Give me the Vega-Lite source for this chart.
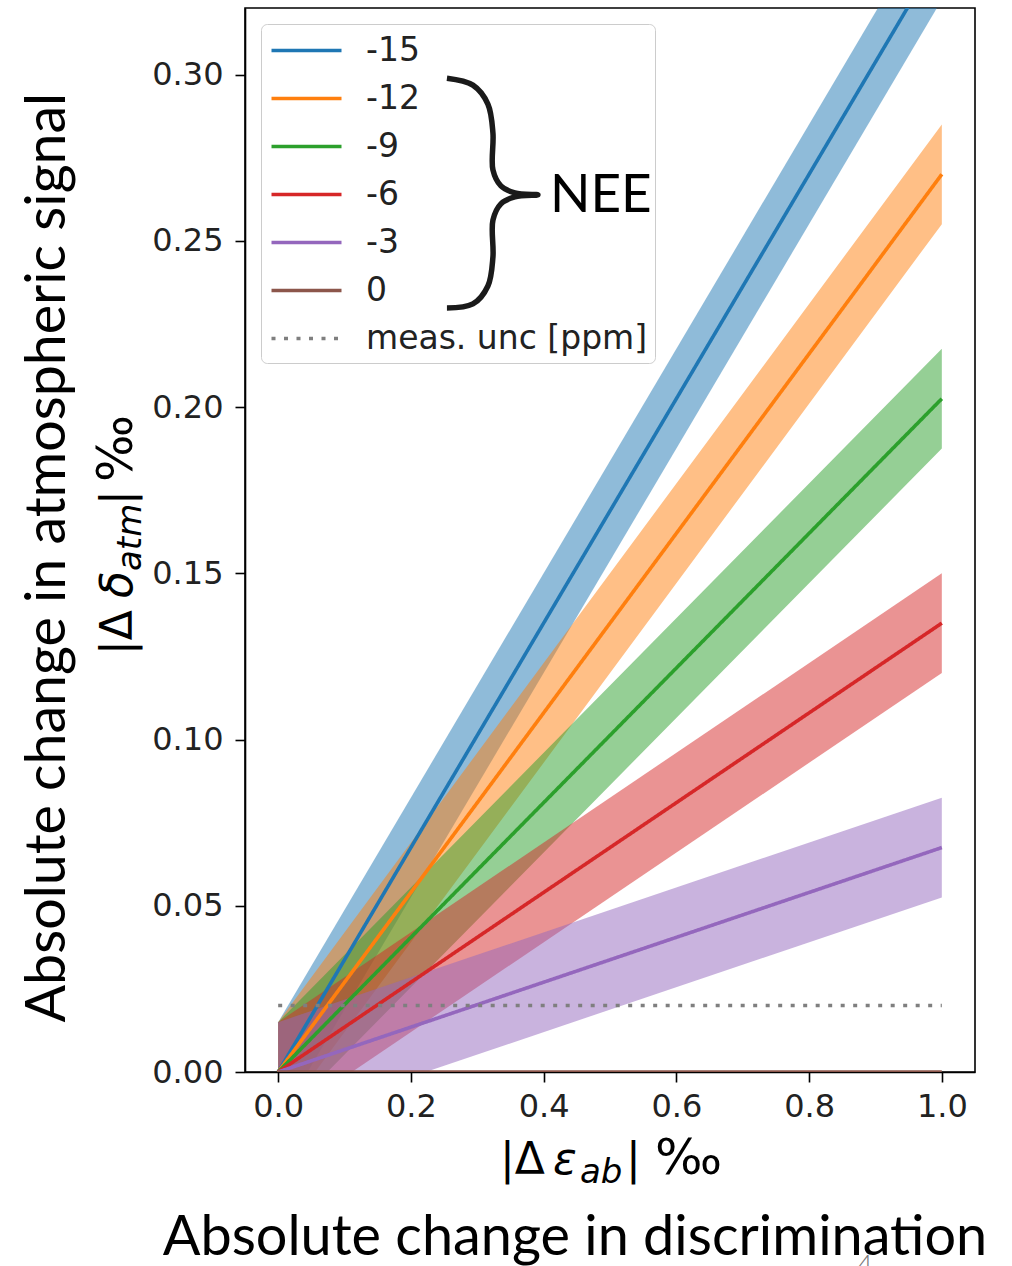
{
  "$schema": "https://vega.github.io/schema/vega-lite/v6.json",
  "width": 730,
  "height": 1064,
  "autosize": {"type": "none"},
  "padding": {"left": 245, "top": 8, "right": 37, "bottom": 194},
  "background": "white",
  "config": {
    "view": {"stroke": "#000", "strokeWidth": 1.6},
    "axis": {"domainColor": "#000", "domainWidth": 1.6, "tickColor": "#000", "tickWidth": 1.6, "tickSize": 10, "labelFont": "DejaVu Sans", "labelFontSize": 32, "labelColor": "#222", "grid": false},
    "text": {"font": "DejaVu Sans", "color": "#000"}
  },
  "datasets": {
    "bands": [
      {"series": "-15", "x": 0, "lo": 0, "hi": 0.015},
      {"series": "-15", "x": 0.0444, "lo": 0, "hi": 0.03},
      {"series": "-15", "x": 1, "lo": 0.3225, "hi": 0.3525},
      {"series": "-12", "x": 0, "lo": 0, "hi": 0.015},
      {"series": "-12", "x": 0.0556, "lo": 0, "hi": 0.03},
      {"series": "-12", "x": 1, "lo": 0.255, "hi": 0.285},
      {"series": "-9", "x": 0, "lo": 0, "hi": 0.015},
      {"series": "-9", "x": 0.0741, "lo": 0, "hi": 0.03},
      {"series": "-9", "x": 1, "lo": 0.1875, "hi": 0.2175},
      {"series": "-6", "x": 0, "lo": 0, "hi": 0.015},
      {"series": "-6", "x": 0.1111, "lo": 0, "hi": 0.03},
      {"series": "-6", "x": 1, "lo": 0.12, "hi": 0.15},
      {"series": "-3", "x": 0, "lo": 0, "hi": 0.015},
      {"series": "-3", "x": 0.2222, "lo": 0, "hi": 0.03},
      {"series": "-3", "x": 1, "lo": 0.0525, "hi": 0.0825}
    ],
    "lines": [
      {"series": "-15", "x": 0, "y": 0},
      {"series": "-15", "x": 1, "y": 0.3375},
      {"series": "-12", "x": 0, "y": 0},
      {"series": "-12", "x": 1, "y": 0.27},
      {"series": "-9", "x": 0, "y": 0},
      {"series": "-9", "x": 1, "y": 0.2025},
      {"series": "-6", "x": 0, "y": 0},
      {"series": "-6", "x": 1, "y": 0.135},
      {"series": "-3", "x": 0, "y": 0},
      {"series": "-3", "x": 1, "y": 0.0675},
      {"series": "0", "x": 0, "y": 0},
      {"series": "0", "x": 1, "y": 0},
      {"series": "meas. unc [ppm]", "x": 0, "y": 0.02},
      {"series": "meas. unc [ppm]", "x": 1, "y": 0.02}
    ],
    "brace": [
      {"i": 1, "x": 0.2543, "y": 0.2989},
      {"i": 2, "x": 0.2934, "y": 0.2968},
      {"i": 3, "x": 0.3160, "y": 0.2911},
      {"i": 4, "x": 0.3236, "y": 0.2824},
      {"i": 5, "x": 0.3236, "y": 0.2713},
      {"i": 6, "x": 0.3356, "y": 0.2665},
      {"i": 7, "x": 0.3567, "y": 0.2644},
      {"i": 8, "x": 0.3914, "y": 0.2638},
      {"i": 9, "x": 0.3567, "y": 0.2632},
      {"i": 10, "x": 0.3356, "y": 0.2611},
      {"i": 11, "x": 0.3236, "y": 0.2562},
      {"i": 12, "x": 0.3236, "y": 0.2451},
      {"i": 13, "x": 0.3160, "y": 0.2364},
      {"i": 14, "x": 0.2934, "y": 0.2310},
      {"i": 15, "x": 0.2543, "y": 0.2298}
    ],
    "one": [{}]
  },
  "layer": [
    {
      "data": {"name": "bands"},
      "mark": {"type": "area", "fillOpacity": 0.5, "clip": true},
      "encoding": {
        "x": {"field": "x", "type": "quantitative", "scale": {"domain": [-0.05, 1.05], "nice": false, "zero": false},
              "axis": {"title": null, "values": [0, 0.2, 0.4, 0.6, 0.8, 1.0], "format": ".1f", "labelPadding": 9}},
        "y": {"field": "lo", "type": "quantitative", "stack": null, "scale": {"domain": [0, 0.32], "nice": false, "zero": false},
              "axis": {"title": null, "values": [0, 0.05, 0.1, 0.15, 0.2, 0.25, 0.3], "format": ".2f", "labelPadding": 12}},
        "y2": {"field": "hi"},
        "fill": {"field": "series", "type": "nominal", "legend": null,
                  "scale": {"domain": ["-15", "-12", "-9", "-6", "-3"], "range": ["#1f77b4", "#ff7f0e", "#2ca02c", "#d62728", "#9467bd"]}}
      }
    },
    {
      "data": {"name": "lines"},
      "mark": {"type": "line", "strokeWidth": 3.6, "clip": true},
      "encoding": {
        "x": {"field": "x", "type": "quantitative", "title": null},
        "y": {"field": "y", "type": "quantitative", "title": null},
        "stroke": {"field": "series", "type": "nominal",
                  "scale": {"domain": ["-15", "-12", "-9", "-6", "-3", "0", "meas. unc [ppm]"], "range": ["#1f77b4", "#ff7f0e", "#2ca02c", "#d62728", "#9467bd", "#8c564b", "#7f7f7f"]},
                  "legend": {"orient": "top-left", "offset": 16, "title": null, "symbolType": "M-2,0L2,0", "symbolSize": 1225, "symbolStrokeWidth": 3.6, "symbolOpacity": 1,
                             "labelFont": "DejaVu Sans", "labelFontSize": 33, "labelColor": "#222", "labelLimit": 500, "padding": 7,
                             "strokeColor": "#cccccc", "fillColor": "transparent", "cornerRadius": 6, "rowPadding": 11, "symbolOffset": 19, "labelOffset": 40}},
        "strokeDash": {"field": "series", "type": "nominal",
                       "scale": {"domain": ["-15", "-12", "-9", "-6", "-3", "0", "meas. unc [ppm]"], "range": [[1, 0], [1, 0], [1, 0], [1, 0], [1, 0], [1, 0], [4, 8.5]]},
                       "legend": {"orient": "top-left", "offset": 16, "title": null, "symbolType": "M-2,0L2,0", "symbolSize": 1225, "symbolStrokeWidth": 3.6, "symbolOpacity": 1,
                             "labelFont": "DejaVu Sans", "labelFontSize": 33, "labelColor": "#222", "labelLimit": 500, "padding": 7,
                             "strokeColor": "#cccccc", "fillColor": "transparent", "cornerRadius": 6, "rowPadding": 11, "symbolOffset": 19, "labelOffset": 40}}
      }
    },
    {
      "data": {"name": "brace"},
      "mark": {"type": "line", "interpolate": "catmull-rom", "strokeWidth": 5.5, "color": "#1a1a1a", "clip": false},
      "encoding": {
        "x": {"field": "x", "type": "quantitative", "title": null},
        "y": {"field": "y", "type": "quantitative", "title": null},
        "order": {"field": "i", "type": "quantitative"}
      }
    },
    {
      "data": {"name": "one"},
      "mark": {"type": "text", "text": "NEE", "font": "Lato", "fontSize": 53, "align": "left", "baseline": "alphabetic", "color": "#000"},
      "encoding": {"x": {"datum": 0.4095, "type": "quantitative", "title": null}, "y": {"datum": 0.2586, "type": "quantitative", "title": null}}
    },
    {
      "data": {"name": "one"},
      "mark": {"type": "text", "text": "Absolute change in atmospheric signal", "font": "Lato", "fontSize": 55.5, "align": "center", "baseline": "alphabetic", "angle": 270, "color": "#000"},
      "encoding": {"x": {"datum": -0.3215, "type": "quantitative", "title": null}, "y": {"datum": 0.1547, "type": "quantitative", "title": null}}
    },
    {
      "data": {"name": "one"},
      "mark": {"type": "text", "text": "Absolute change in discrimination", "font": "Lato", "fontSize": 55.8, "align": "center", "baseline": "alphabetic", "color": "#000"},
      "encoding": {"x": {"datum": 0.4472, "type": "quantitative", "title": null}, "y": {"datum": -0.05504, "type": "quantitative", "title": null}}
    },
    {
      "data": {"name": "one"},
      "mark": {"type": "text", "text": "4", "font": "Lato", "fontSize": 28, "fontWeight": 300, "align": "center", "baseline": "alphabetic", "color": "#777"},
      "encoding": {"x": {"datum": 0.8842, "type": "quantitative", "title": null}, "y": {"datum": -0.06105, "type": "quantitative", "title": null}}
    },
    {
      "data": {"name": "one"},
      "mark": {"type": "text", "text": "|Δ", "fontSize": 44, "align": "left", "baseline": "alphabetic", "color": "#000"},
      "encoding": {"x": {"datum": 0.3341, "type": "quantitative", "title": null}, "y": {"datum": -0.03068, "type": "quantitative", "title": null}}
    },
    {
      "data": {"name": "one"},
      "mark": {"type": "text", "text": "ε", "fontSize": 44, "fontStyle": "italic", "align": "left", "baseline": "alphabetic", "color": "#000"},
      "encoding": {"x": {"datum": 0.4140, "type": "quantitative", "title": null}, "y": {"datum": -0.03068, "type": "quantitative", "title": null}}
    },
    {
      "data": {"name": "one"},
      "mark": {"type": "text", "text": "ab", "fontSize": 34, "fontStyle": "italic", "align": "left", "baseline": "alphabetic", "color": "#000"},
      "encoding": {"x": {"datum": 0.4547, "type": "quantitative", "title": null}, "y": {"datum": -0.03338, "type": "quantitative", "title": null}}
    },
    {
      "data": {"name": "one"},
      "mark": {"type": "text", "text": "|", "fontSize": 44, "align": "left", "baseline": "alphabetic", "color": "#000"},
      "encoding": {"x": {"datum": 0.5241, "type": "quantitative", "title": null}, "y": {"datum": -0.03068, "type": "quantitative", "title": null}}
    },
    {
      "data": {"name": "one"},
      "mark": {"type": "text", "text": "‰", "fontSize": 50, "align": "left", "baseline": "alphabetic", "color": "#000"},
      "encoding": {"x": {"datum": 0.5677, "type": "quantitative", "title": null}, "y": {"datum": -0.03068, "type": "quantitative", "title": null}}
    },
    {
      "data": {"name": "one"},
      "mark": {"type": "text", "text": "|Δ", "fontSize": 44, "align": "left", "baseline": "alphabetic", "angle": 270, "color": "#000"},
      "encoding": {"x": {"datum": -0.2205, "type": "quantitative", "title": null}, "y": {"datum": 0.12541, "type": "quantitative", "title": null}}
    },
    {
      "data": {"name": "one"},
      "mark": {"type": "text", "text": "δ", "fontSize": 44, "fontStyle": "italic", "align": "left", "baseline": "alphabetic", "angle": 270, "color": "#000"},
      "encoding": {"x": {"datum": -0.2205, "type": "quantitative", "title": null}, "y": {"datum": 0.14256, "type": "quantitative", "title": null}}
    },
    {
      "data": {"name": "one"},
      "mark": {"type": "text", "text": "atm", "fontSize": 34, "fontStyle": "italic", "align": "left", "baseline": "alphabetic", "angle": 270, "color": "#000"},
      "encoding": {"x": {"datum": -0.2069, "type": "quantitative", "title": null}, "y": {"datum": 0.15068, "type": "quantitative", "title": null}}
    },
    {
      "data": {"name": "one"},
      "mark": {"type": "text", "text": "|", "fontSize": 44, "align": "left", "baseline": "alphabetic", "angle": 270, "color": "#000"},
      "encoding": {"x": {"datum": -0.2205, "type": "quantitative", "title": null}, "y": {"datum": 0.17053, "type": "quantitative", "title": null}}
    },
    {
      "data": {"name": "one"},
      "mark": {"type": "text", "text": "‰", "fontSize": 50, "align": "left", "baseline": "alphabetic", "angle": 270, "color": "#000"},
      "encoding": {"x": {"datum": -0.2205, "type": "quantitative", "title": null}, "y": {"datum": 0.17744, "type": "quantitative", "title": null}}
    }
  ]
}
